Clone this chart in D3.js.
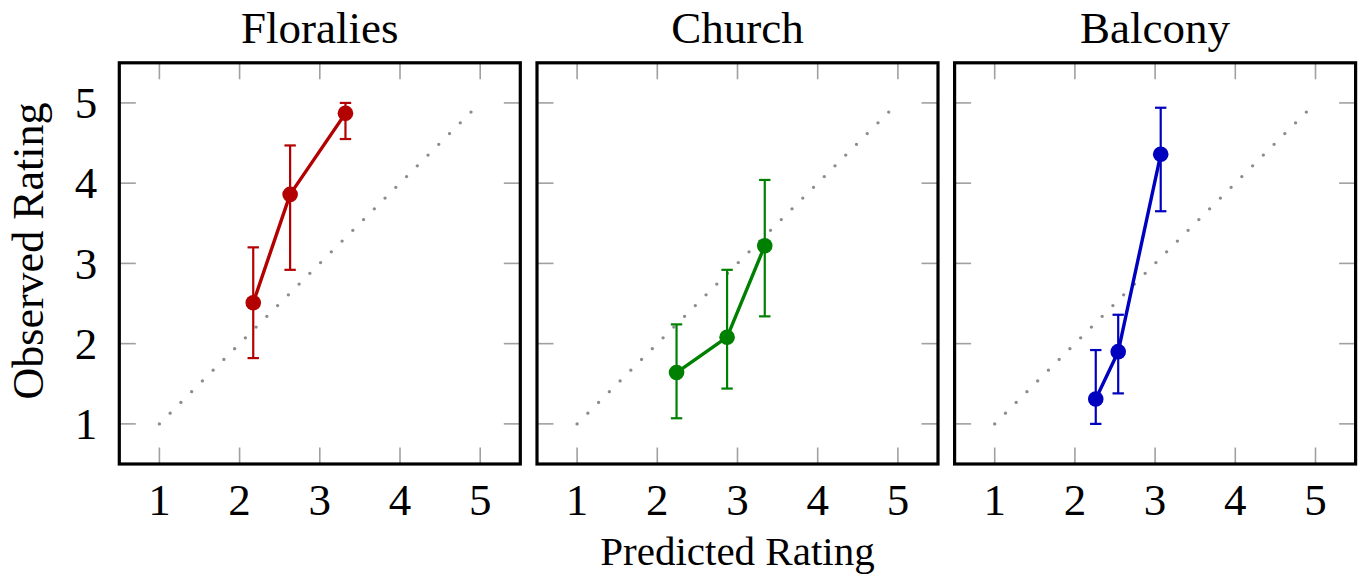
<!DOCTYPE html>
<html>
<head>
<meta charset="utf-8">
<script src="https://cdn.jsdelivr.net/npm/d3@7"></script>
<style>
  html, body { margin: 0; padding: 0; background: #fff; }
  svg { display: block; }
  text { font-family: "Liberation Serif", "Times New Roman", serif; fill: #000; }
</style>
</head>
<body>
<svg id="chart" width="1363" height="580"></svg>
<script>
// ---- data ----
const panelTitles = ["Floralies", "Church", "Balcony"];
const predicted = [
  [2.17, 2.63, 3.32],
  [2.24, 2.87, 3.34],
  [2.26, 2.54, 3.07]
];
const observed = [
  [2.51, 3.86, 4.87],
  [1.64, 2.08, 3.22],
  [1.31, 1.90, 4.36]
];
const errLow = [
  [1.82, 2.92, 4.55],
  [1.07, 1.44, 2.34],
  [1.00, 1.38, 3.65]
];
const errHigh = [
  [3.20, 4.47, 5.00],
  [2.24, 2.92, 4.04],
  [1.92, 2.36, 4.94]
];
const seriesColors = ["#b30000", "#008000", "#0000bf"];
const tickValues = [1, 2, 3, 4, 5];
const diagonal = [1, 5];
const axisDomain = [0.5, 5.5];
const xLabel = "Predicted Rating";
const yLabel = "Observed Rating";

// ---- layout ----
const svg = d3.select("#chart");
const panelLefts = [119.3, 537, 954.6];
const panelW = 401;
const plotTop = 62.8, plotBottom = 464;

const y = d3.scaleLinear().domain(axisDomain).range([plotBottom, plotTop]);

panelTitles.forEach((title, i) => {
  const x0 = panelLefts[i];
  const x = d3.scaleLinear().domain(axisDomain).range([x0, x0 + panelW]);
  const g = svg.append("g");

  // inner tick marks (all four sides)
  const tickLen = 16.5;
  const tickStyle = sel => sel.attr("stroke", "#a0a0a0").attr("stroke-width", 1.6);
  tickValues.forEach(v => {
    g.append("line").attr("x1", x(v)).attr("x2", x(v)).attr("y1", plotBottom).attr("y2", plotBottom - tickLen).call(tickStyle);
    g.append("line").attr("x1", x(v)).attr("x2", x(v)).attr("y1", plotTop).attr("y2", plotTop + tickLen).call(tickStyle);
    g.append("line").attr("y1", y(v)).attr("y2", y(v)).attr("x1", x0).attr("x2", x0 + tickLen).call(tickStyle);
    g.append("line").attr("y1", y(v)).attr("y2", y(v)).attr("x1", x0 + panelW).attr("x2", x0 + panelW - tickLen).call(tickStyle);
  });

  // x tick labels
  g.selectAll("text.xt").data(tickValues).enter().append("text")
    .attr("class", "xt")
    .attr("x", d => x(d)).attr("y", 515)
    .attr("text-anchor", "middle").attr("font-size", 45)
    .text(d => d);

  // y tick labels (first panel only)
  if (i === 0) {
    g.selectAll("text.yt").data(tickValues).enter().append("text")
      .attr("class", "yt")
      .attr("x", x0 - 22).attr("y", d => y(d)).attr("dy", "0.34em")
      .attr("text-anchor", "end").attr("font-size", 45)
      .text(d => d);
  }

  // title
  g.append("text").attr("x", x0 + panelW / 2).attr("y", 43)
    .attr("text-anchor", "middle").attr("font-size", 45).text(title);

  // diagonal dotted reference
  g.append("line")
    .attr("x1", x(diagonal[0])).attr("y1", y(diagonal[0]))
    .attr("x2", x(diagonal[1])).attr("y2", y(diagonal[1]))
    .attr("stroke", "#8c8c8c").attr("stroke-width", 3.4)
    .attr("stroke-linecap", "round").attr("stroke-dasharray", "0,15.2");

  const col = seriesColors[i];
  const pts = predicted[i].map((p, k) => ({ px: p, oy: observed[i][k], lo: errLow[i][k], hi: errHigh[i][k] }));

  // error bars
  const eb = g.selectAll("g.eb").data(pts).enter().append("g").attr("class", "eb");
  eb.append("line").attr("x1", d => x(d.px)).attr("x2", d => x(d.px))
    .attr("y1", d => y(d.lo)).attr("y2", d => y(d.hi))
    .attr("stroke", col).attr("stroke-width", 2.2);
  eb.append("line").attr("x1", d => x(d.px) - 5.7).attr("x2", d => x(d.px) + 5.7)
    .attr("y1", d => y(d.lo)).attr("y2", d => y(d.lo))
    .attr("stroke", col).attr("stroke-width", 2.2);
  eb.append("line").attr("x1", d => x(d.px) - 5.7).attr("x2", d => x(d.px) + 5.7)
    .attr("y1", d => y(d.hi)).attr("y2", d => y(d.hi))
    .attr("stroke", col).attr("stroke-width", 2.2);

  // line
  g.append("path").datum(pts)
    .attr("d", d3.line().x(d => x(d.px)).y(d => y(d.oy)))
    .attr("fill", "none").attr("stroke", col).attr("stroke-width", 3.4)
    .attr("stroke-linejoin", "round");

  // markers
  g.selectAll("circle").data(pts).enter().append("circle")
    .attr("cx", d => x(d.px)).attr("cy", d => y(d.oy)).attr("r", 7.8)
    .attr("fill", col);

  // frame
  g.append("rect").attr("x", x0).attr("y", plotTop).attr("width", panelW).attr("height", plotBottom - plotTop)
    .attr("fill", "none").attr("stroke", "#000").attr("stroke-width", 3.2);
});

// axis labels
svg.append("text").attr("x", panelLefts[1] + panelW / 2).attr("y", 565)
  .attr("text-anchor", "middle").attr("font-size", 41).text(xLabel);

svg.append("text")
  .attr("transform", "translate(43,251) rotate(-90)")
  .attr("text-anchor", "middle").attr("font-size", 44).text(yLabel);
</script>
</body>
</html>
